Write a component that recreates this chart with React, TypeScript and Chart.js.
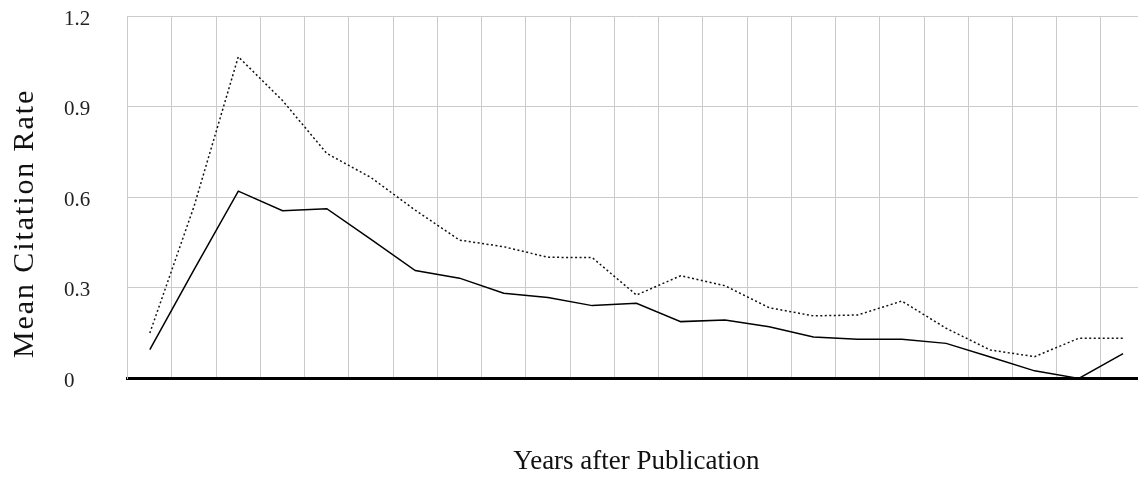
import React, { useEffect, useRef } from "react";
import { Chart, registerables } from "chart.js";

Chart.register(...registerables);

const years = ["1", "2", "3", "4", "5", "6", "7", "8", "9", "10", "11", "12", "13", "14", "15", "16", "17", "18", "19", "20", "21", "22", "23"];

const meanCitationSolid = [0.095, 0.36, 0.62, 0.555, 0.562, 0.46, 0.357, 0.332, 0.282, 0.268, 0.241, 0.249, 0.188, 0.193, 0.171, 0.137, 0.13, 0.13, 0.116, 0.071, 0.025, 0, 0.082];

const meanCitationDotted = [0.15, 0.57, 1.065, 0.92, 0.745, 0.665, 0.557, 0.458, 0.436, 0.401, 0.4, 0.276, 0.34, 0.307, 0.234, 0.207, 0.21, 0.256, 0.166, 0.094, 0.072, 0.133, 0.133];

const yTickValues = [0, 0.3, 0.6, 0.9, 1.2];
const yTickLabels = ["0", "0.3", "0.6", "0.9", "1.2"];

const xTitle = "Years after Publication";
const yTitle = "Mean Citation Rate";

const FONT = "'Liberation Serif', 'Times New Roman', serif";
const GRID = "#cbcbcb";

export default function App() {
  const ref = useRef<HTMLCanvasElement | null>(null);

  useEffect(() => {
    if (!ref.current) return;

    const yTitlePlugin = {
      id: "yTitleDraw",
      afterDraw(chart: any) {
        const { ctx, chartArea } = chart;
        ctx.save();
        ctx.font = "30px " + FONT;
        try {
          (ctx as any).letterSpacing = "1.9px";
        } catch (e) {
          /* ignore */
        }
        ctx.fillStyle = "#111";
        ctx.textAlign = "center";
        ctx.textBaseline = "alphabetic";
        ctx.translate(33, chartArea.bottom - 155);
        ctx.rotate(-Math.PI / 2);
        ctx.fillText(yTitle, 0, 0);
        ctx.restore();
      },
    };

    const chart = new Chart(ref.current, {
      type: "line",
      data: {
        labels: years,
        datasets: [
          {
            data: meanCitationDotted,
            borderColor: "#111",
            borderWidth: 1.5,
            borderDash: [2, 2.5],
            pointRadius: 0,
            fill: false,
            tension: 0,
          },
          {
            data: meanCitationSolid,
            borderColor: "#000",
            borderWidth: 1.5,
            pointRadius: 0,
            fill: false,
            tension: 0,
          },
        ],
      },
      options: {
        animation: false,
        responsive: false,
        layout: { padding: { left: 64, right: 4.8, top: 16, bottom: 0 } },
        plugins: {
          legend: { display: false },
          tooltip: { enabled: false },
          title: { display: false },
        },
        scales: {
          x: {
            type: "category",
            offset: true,
            grid: { offset: true, color: GRID, lineWidth: 1, drawTicks: false },
            border: { color: "#000", width: 3 },
            ticks: { display: false },
            title: {
              display: true,
              text: xTitle,
              color: "#111",
              font: { family: FONT, size: 27 },
              padding: { top: 0, bottom: 1.3 },
            },
            afterFit: (s: any) => {
              s.height = 100.6;
            },
          },
          y: {
            min: 0,
            max: 1.2,
            grid: {
              color: (c: any) => (c.tick && c.tick.value === 0 ? "rgba(0,0,0,0)" : GRID),
              lineWidth: 1,
              drawTicks: false,
            },
            border: { color: GRID, width: 1 },
            ticks: {
              color: "#222",
              font: { family: FONT, size: 21 },
              crossAlign: "far",
              padding: 0,
              labelOffset: 3,
              callback: (_v: any, i: number) => yTickLabels[i],
            },
            afterBuildTicks: (s: any) => {
              s.ticks = yTickValues.map((v) => ({ value: v }));
            },
            afterFit: (s: any) => {
              s.width = 63.7;
            },
          },
        },
      },
      plugins: [yTitlePlugin],
    } as any);

    return () => chart.destroy();
  }, []);

  return (
    <div
      style={{
        position: "fixed",
        left: 0,
        top: 0,
        width: 1138,
        height: 479,
        overflow: "hidden",
        background: "#fff",
      }}
    >
      <canvas ref={ref} width={1150} height={479} style={{ display: "block" }} />
    </div>
  );
}
